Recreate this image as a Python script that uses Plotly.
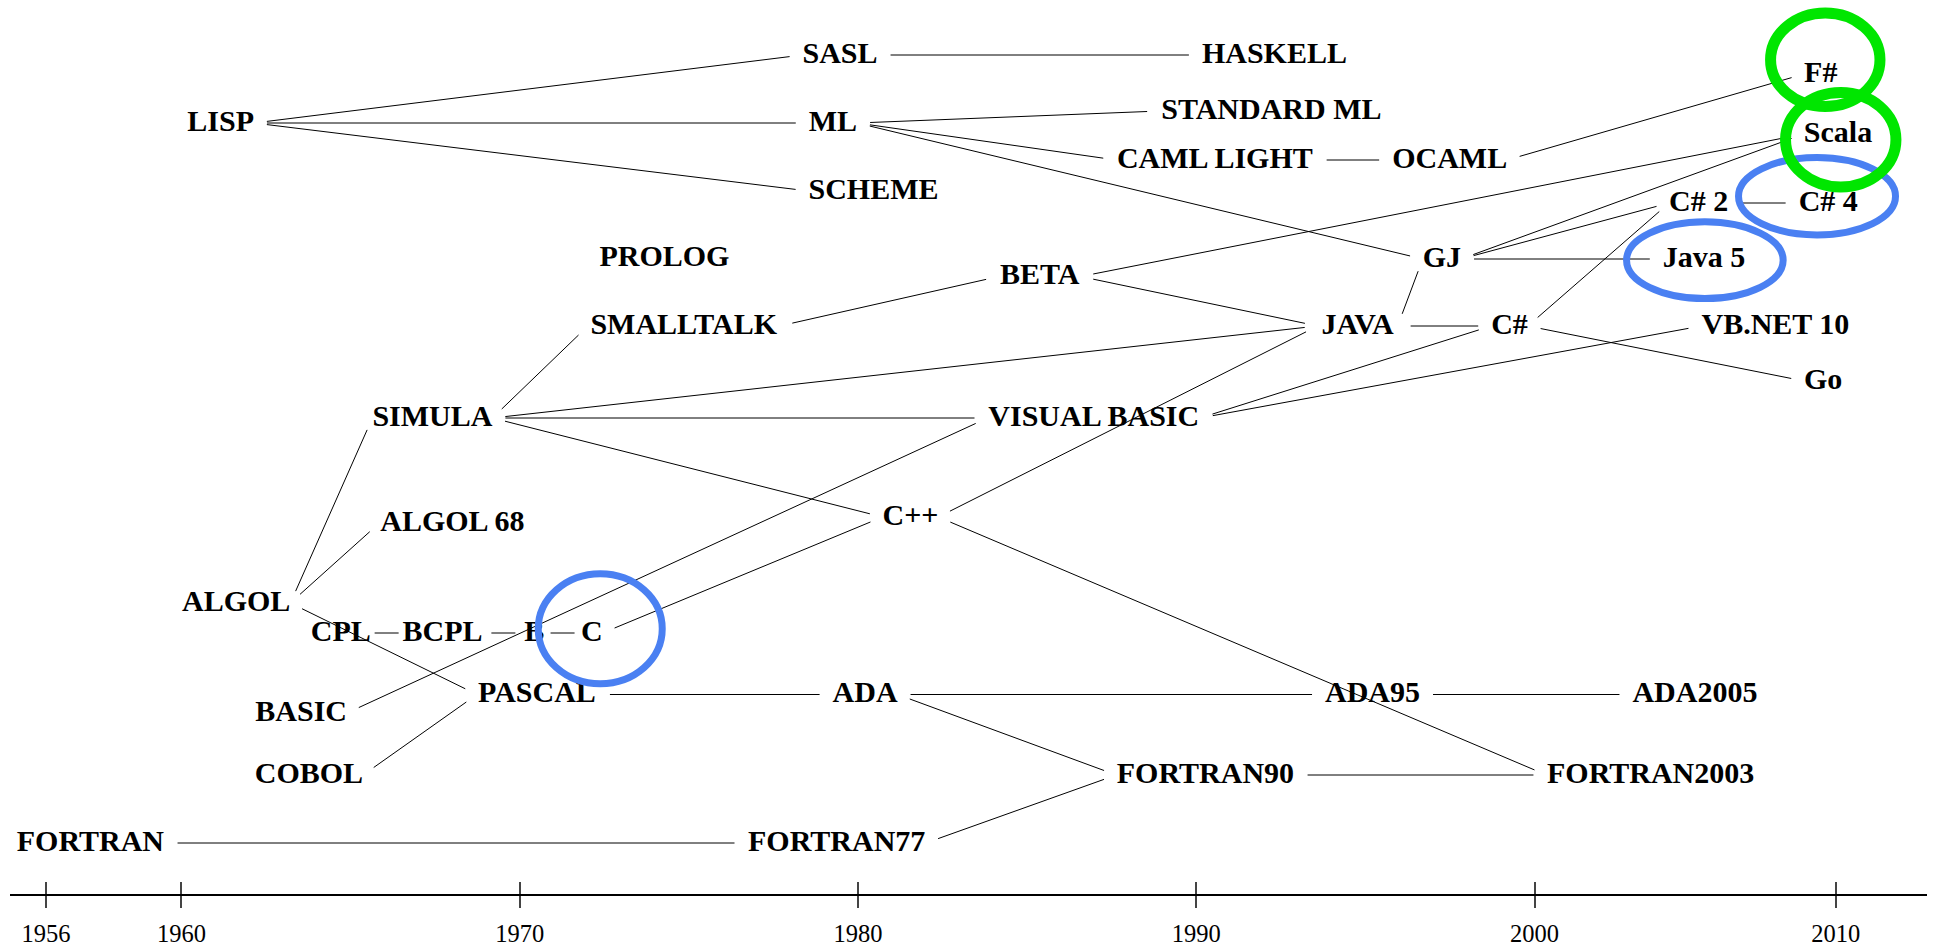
import plotly.graph_objects as go

# ---------------- data ----------------
languages = ["FORTRAN", "LISP", "ALGOL", "BASIC", "COBOL", "CPL", "SIMULA", "BCPL",
             "ALGOL 68", "B", "PASCAL", "C", "PROLOG", "SMALLTALK", "SASL", "ML",
             "FORTRAN77", "ADA", "SCHEME", "C++", "BETA", "VISUAL BASIC", "CAML LIGHT",
             "FORTRAN90", "STANDARD ML", "HASKELL", "JAVA", "ADA95", "GJ", "OCAML", "C#",
             "FORTRAN2003", "ADA2005", "C# 2", "Java 5", "VB.NET 10", "F#", "Go", "C# 4",
             "Scala"]
years = [1957.31, 1961.16, 1961.62, 1963.54, 1963.77, 1964.71, 1967.42, 1967.72,
         1968.01, 1970.43, 1970.51, 1972.13, 1974.28, 1974.85, 1979.47, 1979.26,
         1979.37, 1980.21, 1980.46, 1981.55, 1985.37, 1986.97, 1990.55,
         1990.27, 1992.22, 1992.31, 1994.77, 1995.21, 1997.26, 1997.49, 1999.26,
         2003.43, 2004.74, 2004.85, 2005.01, 2007.12, 2008.46, 2008.53, 2008.68,
         2008.97]
# vertical lane of each label (height above the time axis, arbitrary units)
lanes = [51, 771, 291, 181, 119, 261, 476, 261,
         371, 261, 199.5, 261, 635.5, 568, 839, 771,
         51, 199.5, 703, 377, 617.5, 476, 734,
         119, 783, 839, 568, 199.5, 635, 734, 568,
         119, 199.5, 691, 635, 568, 820, 513, 691,
         760]

edge_from = ["FORTRAN", "FORTRAN77", "FORTRAN90", "ADA", "ADA", "ADA95", "C++",
             "PASCAL", "ALGOL", "COBOL", "BASIC", "ALGOL", "ALGOL", "CPL", "BCPL",
             "B", "C", "C++", "SIMULA", "SIMULA", "SIMULA", "SIMULA", "SMALLTALK",
             "BETA", "BETA", "VISUAL BASIC", "VISUAL BASIC", "JAVA", "JAVA", "C#",
             "C#", "GJ", "GJ", "GJ", "C# 2", "ML", "ML", "ML", "CAML LIGHT", "OCAML",
             "LISP", "LISP", "LISP", "SASL"]
edge_to = ["FORTRAN77", "FORTRAN90", "FORTRAN2003", "FORTRAN90", "ADA95", "ADA2005",
           "FORTRAN2003", "ADA", "PASCAL", "PASCAL", "VISUAL BASIC", "SIMULA",
           "ALGOL 68", "BCPL", "B", "C", "C++", "JAVA", "SMALLTALK", "JAVA",
           "VISUAL BASIC", "C++", "BETA", "JAVA", "Scala", "C#", "VB.NET 10", "C#",
           "GJ", "C# 2", "Go", "C# 2", "Java 5", "Scala", "C# 4", "GJ", "STANDARD ML",
           "CAML LIGHT", "OCAML", "F#", "SASL", "ML", "SCHEME", "HASKELL"]

tick_years = [1956, 1960, 1970, 1980, 1990, 2000, 2008.9]
tick_labels = ["1956", "1960", "1970", "1980", "1990", "2000", "2010"]

highlight_names = ["C# 4", "Java 5", "C", "F#", "Scala"]
highlight_kind = ["blue", "blue", "blue", "green", "green"]

# ---------------- styling / layout ----------------
W, H = 1935, 949
ML_, MR_, MT_, MB_ = 10, 8, 0, 55
X_RANGE = [1954.934, 2011.60]
Y_RANGE = [0, 894]
PLOT_W = W - ML_ - MR_
PLOT_H = H - MT_ - MB_
PX_PER_YEAR = PLOT_W / (X_RANGE[1] - X_RANGE[0])
PX_PER_LANE = PLOT_H / (Y_RANGE[1] - Y_RANGE[0])

FONT = "Liberation Serif, Times New Roman, Times, serif"
LABEL_SIZE = 30

# Times-Bold advance widths (per 1000 em)
CW = {" ": 250, "#": 500, "+": 570, ".": 250, "a": 500, "c": 444, "l": 278,
      "v": 500, "o": 500, "A": 722, "B": 667, "C": 722, "D": 722, "E": 667,
      "F": 611, "G": 778, "H": 778, "I": 389, "J": 500, "K": 778, "L": 667,
      "M": 944, "N": 722, "O": 778, "P": 611, "R": 722, "S": 556, "T": 667,
      "U": 722, "V": 722, "Y": 722}


def text_w(s):
    return sum(CW.get(ch, 500 if ch.isdigit() else 600) for ch in s) / 1000 * LABEL_SIZE


pos = {n: (x * PX_PER_YEAR, y * PX_PER_LANE) for n, x, y in zip(languages, years, lanes)}
width = {n: text_w(n) for n in languages}

GAP = 13
MIN_LEN = 24
ex, ey = [], []
for a, b in zip(edge_from, edge_to):
    sx = pos[a][0] + width[a] / 2
    sy = pos[a][1]
    tx = pos[b][0] - width[b] / 2
    ty = pos[b][1]
    dx, dy = tx - sx, ty - sy
    L = (dx * dx + dy * dy) ** 0.5
    g = max(min(GAP, (L - MIN_LEN) / 2), -4)
    ux, uy = dx / L, dy / L
    x0, y0 = sx + ux * g, sy + uy * g
    x1, y1 = tx - ux * g, ty - uy * g
    ex += [x0 / PX_PER_YEAR, x1 / PX_PER_YEAR, None]
    ey += [y0 / PX_PER_LANE, y1 / PX_PER_LANE, None]

fig = go.Figure()
fig.add_trace(go.Scatter(x=ex, y=ey, mode="lines", line=dict(color="black", width=1),
                         hoverinfo="skip", showlegend=False))
fig.add_trace(go.Scatter(x=years, y=lanes, mode="text", text=languages,
                         textposition="middle center",
                         textfont=dict(family=FONT, size=LABEL_SIZE, color="black", weight="bold"),
                         hoverinfo="skip", showlegend=False))
# helper trace so the second (inside-tick) axis is drawn
fig.add_trace(go.Scatter(x=[], y=[], xaxis="x2", showlegend=False, hoverinfo="skip"))

# highlight ellipses (style: radii and small offsets in px)
HL_STYLE = {
    "C# 4": dict(rx=78.5, ry=38.7, dx=-11.2, dy=6.8),
    "Java 5": dict(rx=78.3, ry=38.4, dx=0.8, dy=-1.2),
    "C": dict(rx=62, ry=55, dx=8.5, dy=4.3),
    "F#": dict(rx=54.7, ry=46.7, dx=4.5, dy=14.2),
    "Scala": dict(rx=55.2, ry=47.2, dx=2.7, dy=-5.7),
}
KIND = {"blue": dict(color="#4a80f2", width=7), "green": dict(color="#00e600", width=11)}
shapes = []
for n, k in zip(highlight_names, highlight_kind):
    st = HL_STYLE[n]
    cx = pos[n][0] + st["dx"]
    cy = pos[n][1] + st["dy"]
    shapes.append(dict(type="circle", xref="x", yref="y", layer="above",
                       x0=(cx - st["rx"]) / PX_PER_YEAR, x1=(cx + st["rx"]) / PX_PER_YEAR,
                       y0=(cy - st["ry"]) / PX_PER_LANE, y1=(cy + st["ry"]) / PX_PER_LANE,
                       line=dict(color=KIND[k]["color"], width=KIND[k]["width"])))
# blue first, green on top
shapes.sort(key=lambda s: 0 if s["line"]["color"] == KIND["blue"]["color"] else 1)

fig.update_layout(
    width=W, height=H,
    margin=dict(l=ML_, r=MR_, t=MT_, b=MB_, autoexpand=False),
    paper_bgcolor="white", plot_bgcolor="white",
    shapes=shapes,
    xaxis=dict(range=X_RANGE, tickvals=tick_years, ticktext=tick_labels,
               ticks="outside", ticklen=12, tickwidth=1.5, tickcolor="#444",
               showline=True, linecolor="black", linewidth=1.5, automargin=False,
               showgrid=False, zeroline=False, ticklabelstandoff=5,
               tickfont=dict(family=FONT, size=24.5, color="black")),
    xaxis2=dict(range=X_RANGE, overlaying="x", anchor="y", side="bottom",
                tickvals=tick_years, ticks="inside", ticklen=12, tickwidth=1.5,
                tickcolor="#444", showticklabels=False, showline=False,
                showgrid=False, zeroline=False, automargin=False),
    yaxis=dict(range=Y_RANGE, visible=False, showgrid=False, zeroline=False,
               automargin=False),
)

fig.write_html("out.html", config={"displayModeBar": False},
               post_script="document.body.style.margin='0';document.body.style.overflow='hidden';")
